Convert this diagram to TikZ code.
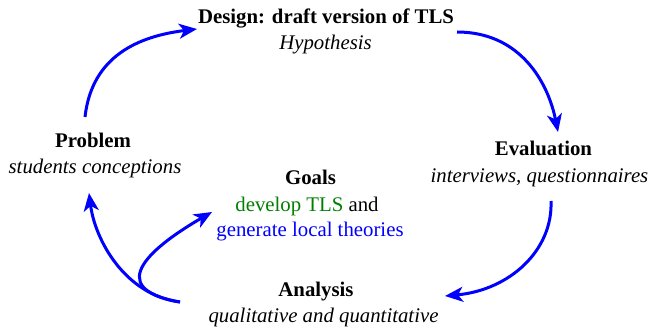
\documentclass[tikz,border=0pt]{standalone}
\usepackage{fontspec}
\newfontfamily\libser{Liberation Serif}
\usetikzlibrary{arrows.meta}
\definecolor{tgreen}{RGB}{0,128,0}
\definecolor{tblue}{RGB}{0,0,255}
\tikzset{
  lbl/.style={anchor=base, inner sep=0pt, font=\fontsize{20.8}{26}\selectfont\libser},
  cyc/.style={draw=tblue, line width=3pt,
    -{Stealth[length=18pt, width=15pt, inset=5pt]}}
}
\begin{document}
\begin{tikzpicture}[x=1pt, y=-1pt]
\useasboundingbox (0,0) rectangle (652,331);
% texts
\node[lbl] (design) at (326,24) {\textbf{Design: draft version of TLS}};
\node[lbl] (hyp) at (325.5,50) {\textit{Hypothesis}};
\node[lbl] (problem) at (93,147) {\textbf{Problem}};
\node[lbl] (conc) at (95,173) {\textit{students conceptions}};
\node[lbl] (eval) at (543.5,156) {\textbf{Evaluation}};
\node[lbl] (interv) at (539.5,182) {\textit{interviews, questionnaires}};
\node[lbl] (goals) at (310.5,184) {\textbf{Goals}};
\node[lbl] (develop) at (307,211) {\textcolor{tgreen}{develop TLS} and};
\node[lbl] (generate) at (310,236) {\textcolor{tblue}{generate local theories}};
\node[lbl] (analysis) at (316,296) {\textbf{Analysis}};
\node[lbl] (qual) at (323.5,322) {\textit{qualitative and quantitative}};
% arrow end points
\coordinate (p1s) at (85,117);
\coordinate (p1e) at (197,29);
\coordinate (p2s) at (457,32);
\coordinate (p2e) at (558,132);
\coordinate (p3s) at (551,201);
\coordinate (p3e) at (445,296);
\coordinate (p4s) at (180,302);
\coordinate (p4e) at (89,193);
\coordinate (p5e) at (212,212);
% arrows
\draw[cyc] (p1s) .. controls (92,55) and (140,36) .. (p1e);
\draw[cyc] (p2s) .. controls (520,32) and (548,82) .. (p2e);
\draw[cyc] (p3s) .. controls (553,250) and (510,290) .. (p3e);
\draw[cyc] (p4s) .. controls (125,295) and (95,240) .. (p4e);
\draw[cyc] (p4s) .. controls (100,288) and (155,245) .. (p5e);
\end{tikzpicture}
\end{document}
